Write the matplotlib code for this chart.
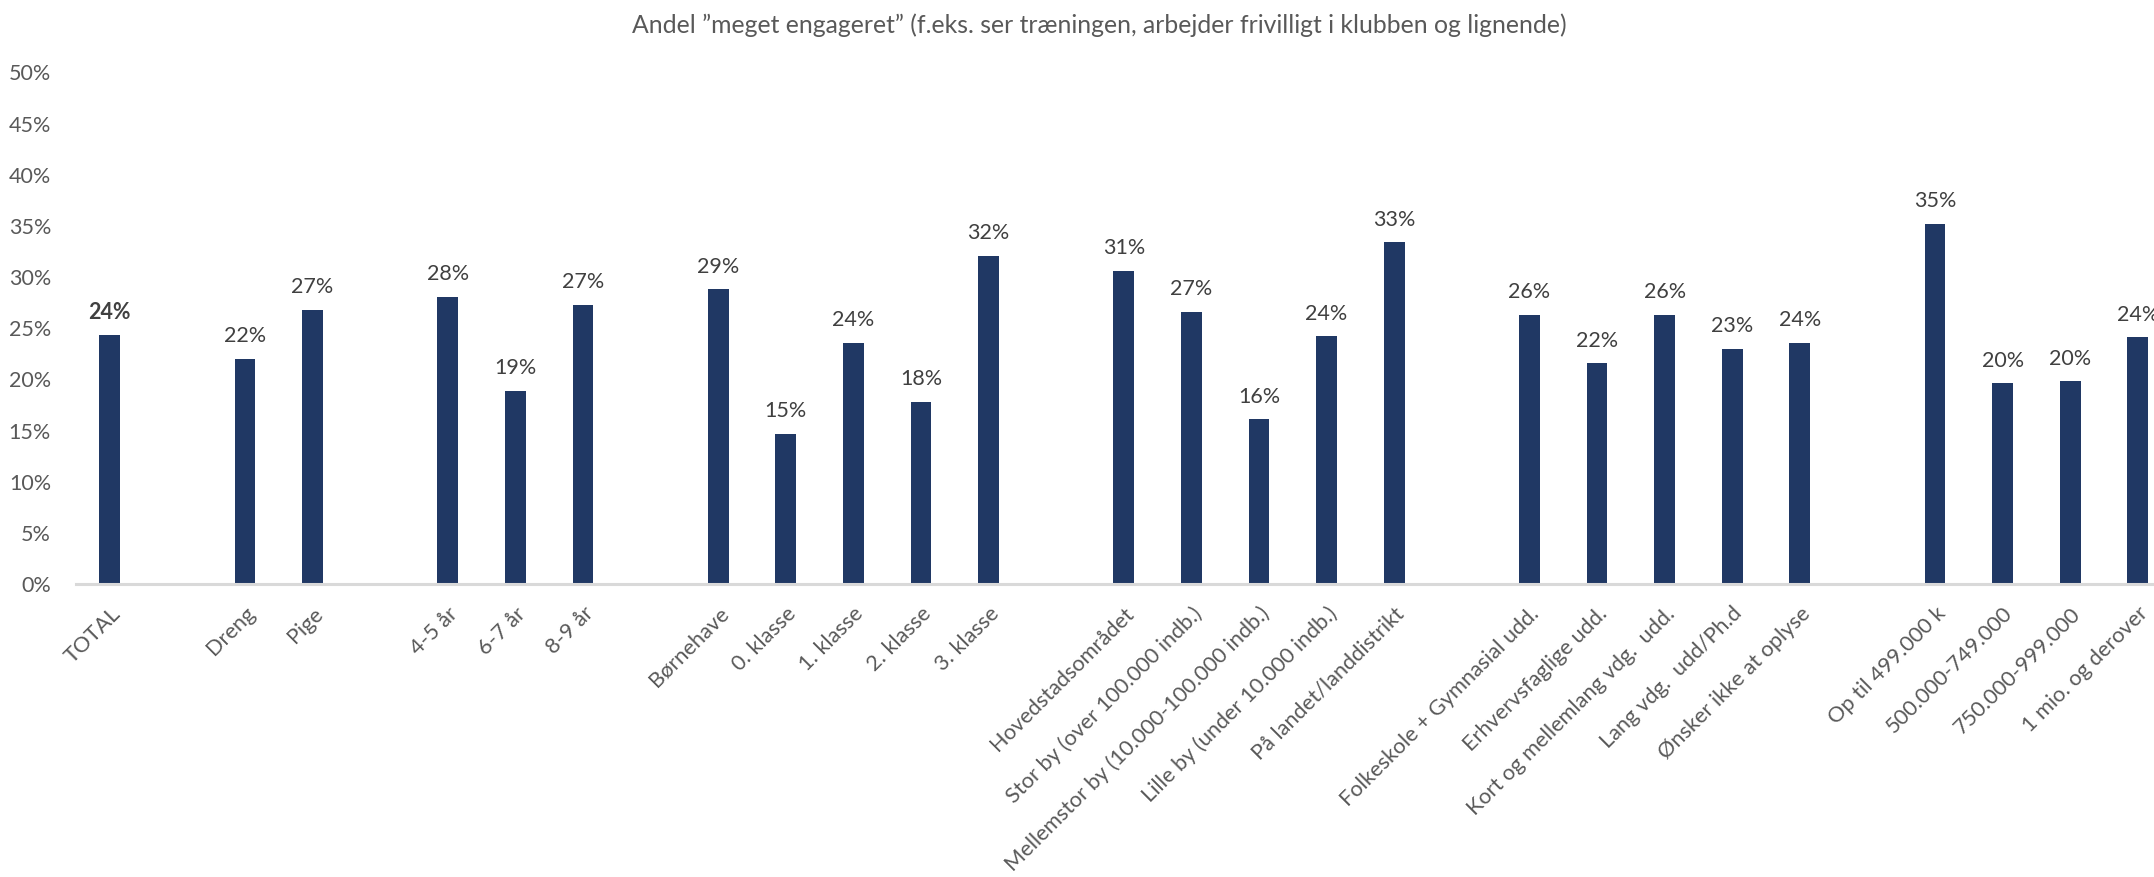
import matplotlib.pyplot as plt
from matplotlib.ticker import PercentFormatter

# Data: categories grouped, one empty slot between groups
grupper = [
    ["TOTAL"],
    ["Dreng", "Pige"],
    ["4-5 år", "6-7 år", "8-9 år"],
    ["Børnehave", "0. klasse", "1. klasse", "2. klasse", "3. klasse"],
    ["Hovedstadsområdet", "Stor by (over 100.000 indb.)",
     "Mellemstor by (10.000-100.000 indb.)", "Lille by (under 10.000 indb.)",
     "På landet/landdistrikt"],
    ["Folkeskole + Gymnasial udd.", "Erhvervsfaglige udd.",
     "Kort og mellemlang vdg.  udd.", "Lang vdg.  udd/Ph.d",
     "Ønsker ikke at oplyse"],
    ["Op til 499.000 k", "500.000-749.000", "750.000-999.000", "1 mio. og derover"],
]
vaerdier = [
    [24.3],
    [22.0, 26.8],
    [28.1, 18.9, 27.3],
    [28.8, 14.7, 23.6, 17.8, 32.1],
    [30.6, 26.6, 16.1, 24.2, 33.4],
    [26.3, 21.6, 26.3, 23.0, 23.6],
    [35.2, 19.6, 19.8, 24.1],
]

titel = "Andel \u201dmeget engageret\u201d (f.eks. ser træningen, arbejder frivilligt i klubben og lignende)"

plt.rcParams['font.family'] = ['Lato', 'DejaVu Sans']

# positions with a gap between groups
pos, labels, vals = [], [], []
x = 0
for g, v in zip(grupper, vaerdier):
    for lab, val in zip(g, v):
        pos.append(x)
        labels.append(lab)
        vals.append(val / 100)
        x += 1
    x += 1

fig = plt.figure(figsize=(21.54, 8.77), dpi=100)
ax = fig.add_axes([76 / 2154, (877 - 584) / 877, 1 - 76 / 2154, (584 - 72.5) / 877])

farve = '#203864'
ax.bar(pos, vals, width=0.31, color=farve, zorder=2)

for i, (p, v) in enumerate(zip(pos, vals)):
    ax.annotate(f"{round(v * 100):.0f}%", (p, v), xytext=(0, 9), textcoords='offset points',
                ha='center', va='bottom', fontsize=15.5, color='#404040',
                fontweight='bold' if i == 0 else 'normal')

ax.set_xlim(-0.5, 30.24)
ax.set_ylim(0, 0.5)
ax.set_yticks([i * 0.05 for i in range(11)])
ax.yaxis.set_major_formatter(PercentFormatter(1.0, decimals=0))
ax.set_xticks(pos)
ax.set_xticklabels(labels, rotation=45, ha='right', rotation_mode='anchor')

ax.tick_params(axis='both', length=0, labelsize=15.5, labelcolor='#595959')
ax.tick_params(axis='x', labelsize=15.7)
ax.tick_params(axis='y', pad=18)
ax.tick_params(axis='x', pad=14)

for s in ['top', 'right', 'left']:
    ax.spines[s].set_visible(False)
ax.spines['bottom'].set_color('#D9D9D9')
ax.spines['bottom'].set_linewidth(2.2)
ax.spines['bottom'].set_zorder(3)

fig.text(1099 / 2154, 1 - 25 / 877, titel, ha='center', va='center', fontsize=17.8, color='#595959')

fig.savefig('out.png', dpi=100)
